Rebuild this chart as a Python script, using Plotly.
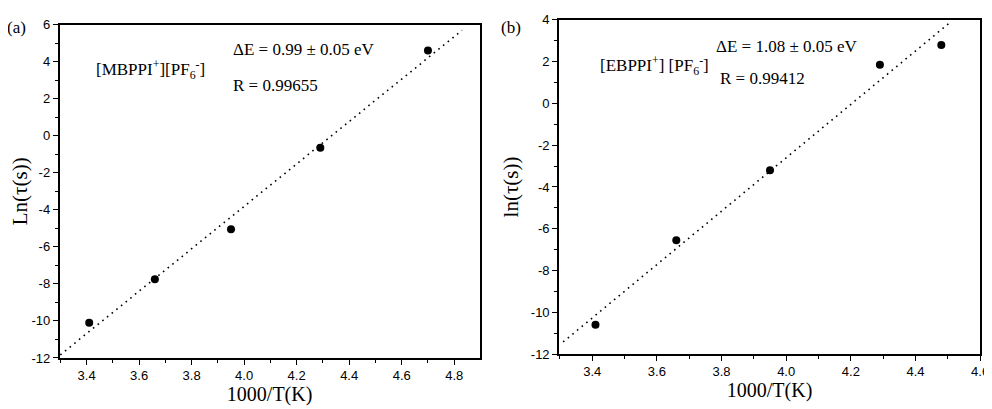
import numpy as np
import plotly.graph_objects as go

# ---- data ----
x_a = [3.41, 3.66, 3.95, 4.29, 4.70]
y_a = [-10.1, -7.75, -5.05, -0.65, 4.6]
x_b = [3.41, 3.66, 3.95, 4.29, 4.48]
y_b = [-10.6, -6.55, -3.2, 1.85, 2.8]

fit_range_a = [3.30, 4.83]
fit_range_b = [3.31, 4.51]

xticks_a = [3.4, 3.6, 3.8, 4.0, 4.2, 4.4, 4.6, 4.8]
yticks_a = [6, 4, 2, 0, -2, -4, -6, -8, -10, -12]
xticks_b = [3.4, 3.6, 3.8, 4.0, 4.2, 4.4, 4.6]
yticks_b = [4, 2, 0, -2, -4, -6, -8, -10, -12]

W, H = 992, 409

def px_x(p):
    return p / W

def px_y(p):
    return 1 - p / H

fig = go.Figure()

def add_panel(xs, ys, fr, xa, ya):
    k, b = np.polyfit(xs, ys, 1)
    lx = np.array(fr)
    fig.add_trace(go.Scatter(x=lx, y=k * lx + b, mode="lines",
                             line=dict(color="black", width=1.6, dash="1.6px,4.4px"),
                             xaxis=xa, yaxis=ya, showlegend=False, hoverinfo="skip"))
    fig.add_trace(go.Scatter(x=xs, y=ys, mode="markers",
                             marker=dict(color="black", size=8),
                             xaxis=xa, yaxis=ya, showlegend=False))

add_panel(x_a, y_a, fit_range_a, "x", "y")
add_panel(x_b, y_b, fit_range_b, "x2", "y2")

tickfont = dict(family="Liberation Sans, Arial", size=13, color="black")
titlefont = dict(family="Liberation Serif, Times New Roman", size=21, color="black")
xtitlefont = dict(family="Liberation Serif, Times New Roman", size=20, color="black")

def axis_common(tickvals, dtick_minor):
    return dict(
        showline=True, linecolor="black", linewidth=1.5, mirror=True,
        ticks="outside", ticklen=5, tickwidth=1.2, tickcolor="black",
        tickvals=tickvals,
        showgrid=False, zeroline=False, tickfont=tickfont,
        minor=dict(ticks="outside", ticklen=3, tickwidth=1.2, tickcolor="black", dtick=dtick_minor, showgrid=False),
    )

xa = axis_common(xticks_a, 0.1)
xa.update(domain=[px_x(52), px_x(476)], range=[3.297, 4.897], anchor="y",
          ticktext=["%.1f" % v for v in xticks_a],
          title=dict(text="1000/T(K)", font=xtitlefont, standoff=3))
ya = axis_common(yticks_a, 1)
ya.update(domain=[px_y(356), px_y(10)], range=[-12, 6], anchor="x",
          ticktext=[str(v) for v in yticks_a],
          title=dict(text="Ln(τ(s))", font=titlefont, standoff=6))
xb = axis_common(xticks_b, 0.1)
xb.update(domain=[px_x(556), px_x(981)], range=[3.297, 4.6], anchor="y2",
          ticktext=["%.1f" % v for v in xticks_b],
          title=dict(text="1000/T(K)", font=xtitlefont, standoff=3))
yb = axis_common(yticks_b, 1)
yb.update(domain=[px_y(352), px_y(5)], range=[-12, 4], anchor="x2",
          ticktext=[str(v) for v in yticks_b],
          title=dict(text="ln(τ(s))", font=titlefont, standoff=6))

fig.update_layout(
    width=W, height=H,
    margin=dict(l=0, r=0, t=0, b=0),
    paper_bgcolor="white", plot_bgcolor="white",
    xaxis=xa, yaxis=ya, xaxis2=xb, yaxis2=yb,
    showlegend=False,
)

annfont = dict(family="Liberation Serif, Times New Roman", size=16, color="black")

def ann(x, y, text, size=16):
    f = dict(annfont)
    f["size"] = size
    fig.add_annotation(x=px_x(x), y=px_y(y), xref="paper", yref="paper",
                       text=text, showarrow=False, xanchor="left", yanchor="middle",
                       borderpad=0, font=f)

ann(-2, 13, "(a)", 17)
ann(497, 13, "(b)", 17)
ann(88, 57, "[MBPPI<sup>+</sup>][PF<sub>6</sub><sup>-</sup>]", 17)
ann(226, 36, "ΔE = 0.99 ± 0.05 eV", 17)
ann(226, 73, "R = 0.99655", 17)
ann(596, 52, "[EBPPI<sup>+</sup>] [PF<sub>6</sub><sup>-</sup>]", 17)
ann(713, 33, "ΔE = 1.08 ± 0.05 eV", 17)
ann(718, 66, "R = 0.99412", 17)

fig.write_html("out.html")
